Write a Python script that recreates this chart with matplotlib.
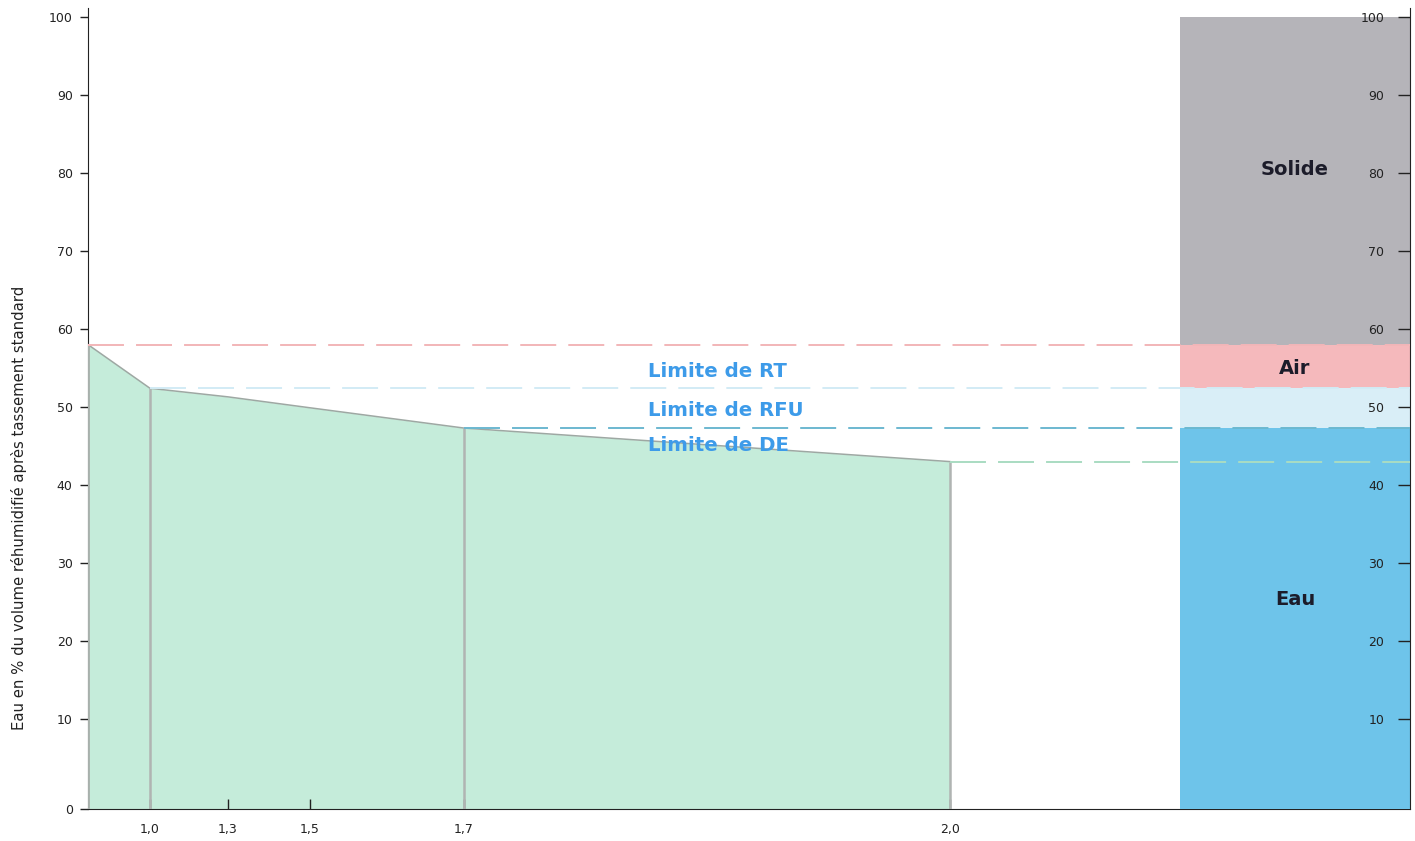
import numpy as np
import matplotlib
matplotlib.use("Agg")
import matplotlib.pyplot as plt
from matplotlib.ticker import FixedLocator, FixedFormatter

# --- data -------------------------------------------------------------
# water retention curve: suction (pF) vs. water content (% volume)
pf_values = [0.0, 1.0, 1.3, 1.5, 1.7, 2.0]
water_pct = [58.0, 52.4, 51.3, 49.9, 47.3, 43.0]

# pF values marked with a vertical line under the curve
marked_pf = [1.0, 1.7, 2.0]

# x tick marks
x_ticks = [1.0, 1.3, 1.5, 1.7, 2.0]
x_tick_labels = ["1,0", "1,3", "1,5", "1,7", "2,0"]

# limits (water content, %)
lim_total = 58.0   # total porosity
lim_rt = 52.4      # RT
lim_rfu = 47.3     # RFU
lim_de = 43.0      # DE

limit_names = ["Limite de RT", "Limite de RFU", "Limite de DE"]
limit_label_y = [54.6, 49.5, 45.1]

# composition column
comp_names = ["Eau", "", "Air", "Solide"]
comp_bottom = [0.0, 47.3, 52.4, 58.0]
comp_top = [47.3, 52.4, 58.0, 100.0]
comp_label_y = [25.3, None, 55.0, 80.4]

y_ticks = [0, 10, 20, 30, 40, 50, 60, 70, 80, 90, 100]

# --- axis scales --------------------------------------------------------
# non-uniform pF axis: knots in pF and their relative positions along the axis
PF_KNOTS = np.array([0.0, 1.0, 1.3, 1.5, 1.7, 2.0, 2.6])
PF_POS = np.array([0, 62, 140, 222, 376, 862, 1322], dtype=float)

def x_fwd(x):
    return np.interp(x, PF_KNOTS, PF_POS)

def x_inv(p):
    return np.interp(p, PF_POS, PF_KNOTS)

# vertical axis: the first decade is drawn a little taller than the others
Y_KNOTS = np.array([0.0, 10.0, 120.0])
Y_POS = np.array([0.0, 90.0, 90.0 + 110 * 7.8])

def y_fwd(y):
    return np.interp(y, Y_KNOTS, Y_POS)

def y_inv(p):
    return np.interp(p, Y_POS, Y_KNOTS)

YMAX = 10 + (719 - 8) / 7.8

# --- figure -------------------------------------------------------------
W, H = 1415, 841
fig = plt.figure(figsize=(W / 100, H / 100), dpi=100)
ax = fig.add_axes([88 / W, 1 - 809 / H, 1322 / W, 801 / H])
ax.set_xscale("function", functions=(x_fwd, x_inv))
ax.set_yscale("function", functions=(y_fwd, y_inv))
ax.set_xlim(0, 2.6)
ax.set_ylim(0, YMAX)

# retention curve area
ax.fill_between(pf_values, 0, water_pct, color="#c5ecda", lw=0, zorder=1)
ax.plot(pf_values, water_pct, color="#9ea8a3", lw=1.1, zorder=3)
ax.vlines([pf_values[0]], 0, water_pct[0], color="#a8b0ac", lw=2.0, zorder=3)
ax.vlines(marked_pf, 0, np.interp(marked_pf, pf_values, water_pct),
          color="#b0b4b2", lw=1.8, zorder=3)

# dashed limit lines
dash = (0, (18.5, 6.2))
tr = ax.get_yaxis_transform()
ax.plot([0, 1], [lim_total, lim_total], transform=tr, color="#f2b6b8",
        lw=1.4, ls=dash, zorder=6)
ax.plot([x_fwd(1.0) / 1322, 1], [lim_rt, lim_rt], transform=tr,
        color="#d2ebf5", lw=1.4, ls=dash, zorder=6)
ax.plot([x_fwd(1.7) / 1322, 1], [lim_rfu, lim_rfu], transform=tr,
        color="#6cb8d0", lw=1.4, ls=dash, zorder=6)
ax.plot([x_fwd(2.0) / 1322, 1], [lim_de, lim_de], transform=tr,
        color="#a9dcc2", lw=1.4, ls=dash, zorder=6)

for name, yv in zip(limit_names, limit_label_y):
    ax.text((648 - 88) / 1322, yv, name, transform=tr, color="#3d9be9",
            fontsize=14.2, fontweight="bold", ha="left", va="center", zorder=7)

# axes styling
for s in ("top", "right"):
    ax.spines[s].set_visible(False)
ax.spines["left"].set_color("#222222")
ax.spines["bottom"].set_color("#222222")

ax.xaxis.set_major_locator(FixedLocator(x_ticks))
ax.xaxis.set_major_formatter(FixedFormatter(x_tick_labels))
ax.xaxis.set_minor_locator(FixedLocator([]))
ax.tick_params(axis="x", direction="in", length=7, width=1, pad=10,
               labelsize=9, colors="#222222")
ax.yaxis.set_major_locator(FixedLocator(y_ticks))
ax.yaxis.set_major_formatter(FixedFormatter([str(v) for v in y_ticks]))
ax.yaxis.set_minor_locator(FixedLocator([]))
ax.tick_params(axis="y", direction="out", length=6, width=1, pad=5,
               labelsize=9, colors="#222222")

ax.set_ylabel("Eau en % du volume réhumidifié après tassement standard",
              fontsize=10.7, color="#222222")
ax.yaxis.set_label_coords(-0.046, 0.376)

# --- composition column ------------------------------------------------
ax2 = ax.inset_axes([1092 / 1322, 0, 230 / 1322, 1])
ax2.set_yscale("function", functions=(y_fwd, y_inv))
ax2.set_ylim(0, YMAX)
ax2.set_xlim(-0.5, 0.5)
ax2.patch.set_visible(False)
comp_colors = ["#6ec4ea", "#d9eef7", "#f5b9bc", "#b5b4b9"]
heights = [t - b for t, b in zip(comp_top, comp_bottom)]
ax2.bar([0] * 4, heights, bottom=comp_bottom, width=1.0, color=comp_colors,
        lw=0, zorder=1)
for name, yv in zip(comp_names, comp_label_y):
    if name:
        ax2.text(0, yv, name, ha="center", va="center", fontsize=14,
                 fontweight="bold", color="#1c1c2a", zorder=3)

for s in ("top", "left", "bottom"):
    ax2.spines[s].set_visible(False)
ax2.spines["right"].set_color("#222222")
ax2.set_xticks([])
right_ticks = y_ticks[1:]
ax2.yaxis.set_major_locator(FixedLocator(right_ticks))
ax2.yaxis.set_major_formatter(FixedFormatter([str(v) for v in right_ticks]))
ax2.yaxis.set_minor_locator(FixedLocator([]))
ax2.tick_params(axis="y", left=False, labelleft=False, right=True,
                labelright=True, direction="in", length=9, width=1,
                pad=-18.5, labelsize=9, colors="#222222")
for t in ax2.yaxis.get_major_ticks():
    t.label2.set_horizontalalignment("right")

fig.savefig("out.png", dpi=100)
